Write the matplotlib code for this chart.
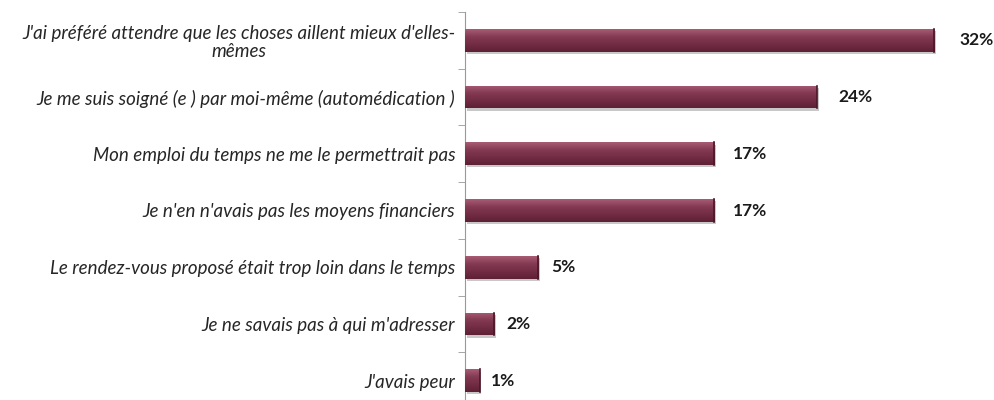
"""
Raisons du renoncement aux soins - horizontal bar chart
"""
import matplotlib
matplotlib.use("Agg")
import matplotlib.pyplot as plt
import numpy as np
from matplotlib.colors import LinearSegmentedColormap

labels = [
    "J'ai préféré attendre que les choses aillent mieux d'elles-\nmêmes",
    "Je me suis soigné (e ) par moi-même (automédication )",
    "Mon emploi du temps ne me le permettrait pas",
    "Je n'en n'avais pas les moyens financiers",
    "Le rendez-vous proposé était trop loin dans le temps",
    "Je ne savais pas à qui m'adresser",
    "J'avais peur",
]
values = [32, 24, 17, 17, 5, 2, 1]
value_labels = ["32%", "24%", "17%", "17%", "5%", "2%", "1%"]

fig = plt.figure(figsize=(9.95, 4.0), dpi=100)
ax = fig.add_axes([465 / 995, 1 - 409 / 400, 1 - 465 / 995, (409 - 12) / 400])

y = np.arange(len(values))
h = 0.4

# gradient for the bevel look: light top, dark bottom
grad = LinearSegmentedColormap.from_list(
    "bev", ["#a85c74", "#833a52", "#722c43", "#5e2035"])
g = np.linspace(0, 1, 64).reshape(-1, 1)

# soft gray shadow below/right of each bar
ax.barh(y + 0.04, values, height=h, left=0.12, color="#c8c8c8", zorder=1)
bars = ax.barh(y, values, height=h, color="#722c43", zorder=2)
for b in bars:
    x0, y0 = b.get_x(), b.get_y()
    im = ax.imshow(g, cmap=grad, aspect="auto", zorder=3,
                   extent=(x0, x0 + b.get_width(), y0 + b.get_height(), y0))
    im.set_clip_path(b)
    ax.plot([x0 + b.get_width()] * 2, [y0, y0 + b.get_height()],
            color="#4a1828", lw=1.2, zorder=4)

# excel puts the labels a bit further out on the long bars
for yi, v, t in zip(y, values, value_labels):
    ax.text(v * 1.03 + 0.75, yi, t, va="center", ha="left", fontsize=12.5,
            fontweight="bold", family="Lato", color="#1a1a1a")

ax.set_xlim(0, (995 - 465) / 14.66)
ax.set_ylim(len(values) - 0.5, -0.5)

ax.set_yticks(y)
ax.set_yticklabels(labels, fontsize=13.5, style="italic", family="Lato",
                   color="#262626", ha="right", multialignment="center",
                   linespacing=1.05)
ax.tick_params(axis="y", length=0, pad=7)
ax.set_yticks(np.arange(len(values) + 1) - 0.5, minor=True)
ax.tick_params(axis="y", which="minor", length=5, color="#999999")
ax.set_xticks([])

for s in ["top", "right", "bottom"]:
    ax.spines[s].set_visible(False)
ax.spines["left"].set_color("#999999")

fig.savefig("out.png", dpi=100)
